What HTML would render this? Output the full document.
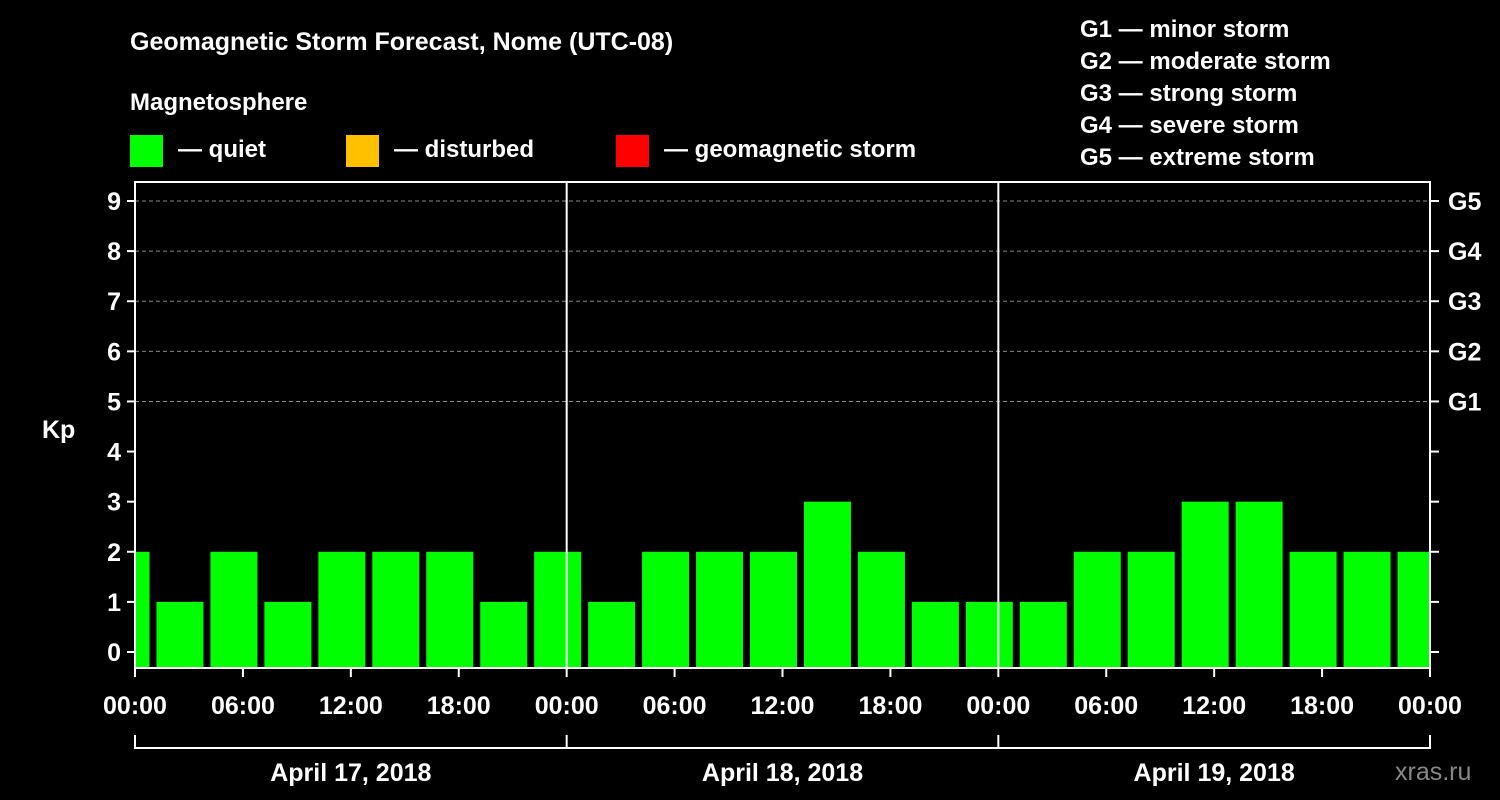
<!DOCTYPE html>
<html><head><meta charset="utf-8"><style>
html,body{margin:0;padding:0;background:#000;}
svg{display:block;font-family:"Liberation Sans",Arial,sans-serif;font-weight:bold;}
</style></head><body>
<svg id="c" width="1500" height="800" viewBox="0 0 1500 800">
<rect width="1500" height="800" fill="#000"/>
<text x="130" y="50" fill="#fff" font-size="25">Geomagnetic Storm Forecast, Nome (UTC-08)</text>
<text x="130" y="110" fill="#fff" font-size="24">Magnetosphere</text>
<g><rect x="130" y="135" width="33" height="32" fill="#00ff00"/><text x="178" y="157" fill="#fff" font-size="24">— quiet</text></g>
<g><rect x="346" y="135" width="33" height="32" fill="#ffc000"/><text x="394" y="157" fill="#fff" font-size="24">— disturbed</text></g>
<g><rect x="616" y="135" width="33" height="32" fill="#ff0000"/><text x="664" y="157" fill="#fff" font-size="24">— geomagnetic storm</text></g>
<g fill="#fff" font-size="24">
<text x="1080" y="37">G1 — minor storm</text>
<text x="1080" y="69">G2 — moderate storm</text>
<text x="1080" y="101">G3 — strong storm</text>
<text x="1080" y="133">G4 — severe storm</text>
<text x="1080" y="165">G5 — extreme storm</text>
</g>
<text x="42" y="438" fill="#fff" font-size="25">Kp</text>
<text x="1395" y="780" fill="#888" font-size="25" font-weight="normal">xras.ru</text>
<g id="plot"></g>
</svg>
<script>
const kpValues=[2,1,2,1,2,2,2,1,2,1,2,2,2,3,2,1,1,1,2,2,3,3,2,2,2];
const firstBarHour=-0.5;
const yTicks=[0,1,2,3,4,5,6,7,8,9];
const gLabels=["G1","G2","G3","G4","G5"];
const xTickLabels=["00:00","06:00","12:00","18:00","00:00","06:00","12:00","18:00","00:00","06:00","12:00","18:00","00:00"];
const dayLabels=["April 17, 2018","April 18, 2018","April 19, 2018"];
const L=135,R=1430,T=182,B=668;
const x=h=>L+(R-L)*h/72;
const y=v=>652-v*50.11;
const NS="http://www.w3.org/2000/svg";
const g=document.getElementById('plot');
function mk(t,a,txt){const e=document.createElementNS(NS,t);for(const k in a)e.setAttribute(k,a[k]);if(txt!==undefined)e.textContent=txt;g.appendChild(e);return e;}
const clip=mk('clipPath',{id:'pc'});
const cr=document.createElementNS(NS,'rect');cr.setAttribute('x',L);cr.setAttribute('y',T);cr.setAttribute('width',R-L);cr.setAttribute('height',B-T);clip.appendChild(cr);
yTicks.forEach(v=>{if(v>=5){const l=mk('line',{x1:L,x2:R,y1:y(v),y2:y(v),stroke:'#888','stroke-dasharray':'4,3','stroke-width':1});

}});
kpValues.forEach((v,i)=>{const c=x(firstBarHour+3*i);const col=v>=5?'#ff0000':(v>=4?'#ffc000':'#00ff00');
const r=mk('rect',{x:c-23.5,y:y(v),width:47,height:B-y(v),fill:col,'clip-path':'url(#pc)'});

});
[24,48].forEach(h=>{const l=mk('line',{x1:x(h),x2:x(h),y1:T,y2:B,stroke:'#fff','stroke-width':2});

});
const fr=mk('rect',{x:L,y:T,width:R-L,height:B-T,fill:'none',stroke:'#fff','stroke-width':2});


yTicks.forEach(v=>{mk('line',{x1:L-8,x2:L,y1:y(v),y2:y(v),stroke:'#fff','stroke-width':2});mk('line',{x1:R,x2:R+9,y1:y(v),y2:y(v),stroke:'#fff','stroke-width':2});
const t=mk('text',{x:L-14,y:y(v)+9,fill:'#fff','font-size':25,'text-anchor':'end'},String(v));

});
gLabels.forEach((s,i)=>{const t=mk('text',{x:R+18,y:y(5+i)+9,fill:'#fff','font-size':25},s);

});
xTickLabels.forEach((s,i)=>{const xx=x(6*i);mk('line',{x1:xx,x2:xx,y1:B,y2:B+9,stroke:'#fff','stroke-width':2});
const t=mk('text',{x:xx,y:714,fill:'#fff','font-size':25,'text-anchor':'middle'},s);

});
mk('line',{x1:L,x2:R,y1:748,y2:748,stroke:'#fff','stroke-width':2});
[0,24,48,72].forEach(h=>mk('line',{x1:x(h),x2:x(h),y1:735,y2:749,stroke:'#fff','stroke-width':2}));
dayLabels.forEach((s,i)=>{const t=mk('text',{x:x(24*i+12),y:781,fill:'#fff','font-size':25,'text-anchor':'middle'},s);

});
</script>
</body></html>
